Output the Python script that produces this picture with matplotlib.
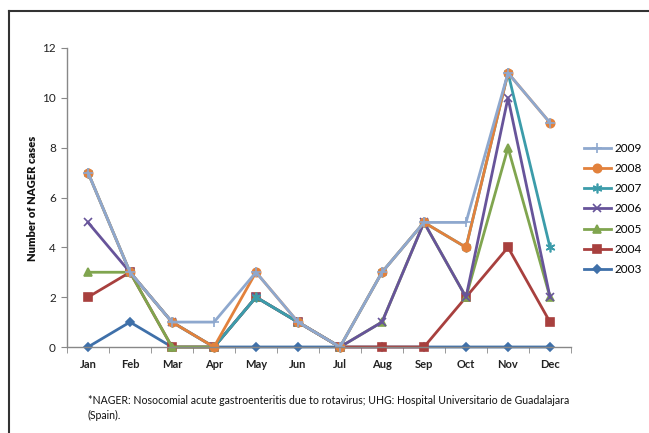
import numpy as np
import matplotlib.pyplot as plt
from matplotlib.lines import Line2D

plt.rcParams['font.family'] = ['Lato', 'DejaVu Sans']

months = ["Jan", "Feb", "Mar", "Apr", "May", "Jun",
          "Jul", "Aug", "Sep", "Oct", "Nov", "Dec"]

cases_2003 = [0, 1, 0, 0, 0, 0, 0, 0, 0, 0, 0, 0]
cases_2004 = [2, 3, 0, 0, 2, 1, 0, 0, 0, 2, 4, 1]
cases_2005 = [3, 3, 0, 0, 2, 1, 0, 1, 5, 2, 8, 2]
cases_2006 = [5, 3, 1, 0, 2, 1, 0, 1, 5, 2, 10, 2]
cases_2007 = [7, 3, 1, 0, 2, 1, 0, 3, 5, 4, 11, 4]
cases_2008 = [7, 3, 1, 0, 3, 1, 0, 3, 5, 4, 11, 9]
cases_2009 = [7, 3, 1, 1, 3, 1, 0, 3, 5, 5, 11, 9]

# drawn in this order so 2009 ends up on top, like the original
series = [
    ("2003", cases_2003, "#3F70A9", "D", 4),
    ("2004", cases_2004, "#A8403E", "s", 6),
    ("2005", cases_2005, "#80A54F", "^", 6),
    ("2006", cases_2006, "#67549A", "x", 6),
    ("2007", cases_2007, "#3C9CAA", (6, 2, 0), 7),
    ("2008", cases_2008, "#E2813C", "o", 6),
    ("2009", cases_2009, "#8EA8CE", "+", 7),
]

fig = plt.figure(figsize=(6.49, 4.33), dpi=100)
ax = fig.add_axes([67 / 649, 1 - 347 / 433, 504 / 649, 299 / 433])

x = np.arange(len(months))
handles = []
for name, vals, col, mk, ms in series:
    h, = ax.plot(x, vals, color=col, lw=2.0, marker=mk, markersize=ms,
                 markeredgecolor=col, markerfacecolor=col, mew=1.2,
                 label=name, clip_on=False)
    handles.append(h)

ax.set_xlim(-0.5, 11.5)
ax.set_ylim(0, 12)
ax.set_yticks(range(0, 13, 2))
ax.set_xticks(x)
ax.set_xticklabels(months)
ax.set_xticks(np.arange(-0.5, 12, 1), minor=True)
ax.tick_params(axis='x', which='major', length=0, pad=9, labelsize=8,
               labelcolor='#222222')
ax.tick_params(axis='x', which='minor', length=4, color='#888888', direction='out')
ax.tick_params(axis='y', length=4, color='#888888', labelsize=8.5,
               labelcolor='#222222', pad=4)
for lab in ax.get_xticklabels():
    lab.set_fontweight('bold')
for s in ['top', 'right']:
    ax.spines[s].set_visible(False)
for s in ['left', 'bottom']:
    ax.spines[s].set_color('#888888')
    ax.spines[s].set_linewidth(1.0)

fig.text(33 / 649, 1 - 198 / 433, "Number of NAGER cases", rotation=90,
         ha='center', va='center', fontsize=8, fontweight='heavy', color='#111111')

fig.legend(handles[::-1], [s[0] for s in series][::-1], loc='center left',
           bbox_to_anchor=(578 / 649, 1 - 209 / 433), frameon=False,
           fontsize=8.5, handlelength=2.3, handletextpad=0.3, labelspacing=0.78,
           borderpad=0)

fig.text(88 / 649, 1 - 400 / 433,
         "*NAGER: Nosocomial acute gastroenteritis due to rotavirus; UHG: Hospital Universitario de Guadalajara",
         fontsize=7.6, va='center', ha='left', color='#111111')
fig.text(88 / 649, 1 - 415 / 433, "(Spain).",
         fontsize=7.6, va='center', ha='left', color='#111111')

# frame lines around the figure panel
fig.add_artist(Line2D([9 / 649, 9 / 649], [0, 1 - 11 / 433], color='#333333', lw=1.5))
fig.add_artist(Line2D([9 / 649, 1], [1 - 11 / 433, 1 - 11 / 433], color='#333333', lw=1.5))

fig.savefig("out.png", dpi=100)
